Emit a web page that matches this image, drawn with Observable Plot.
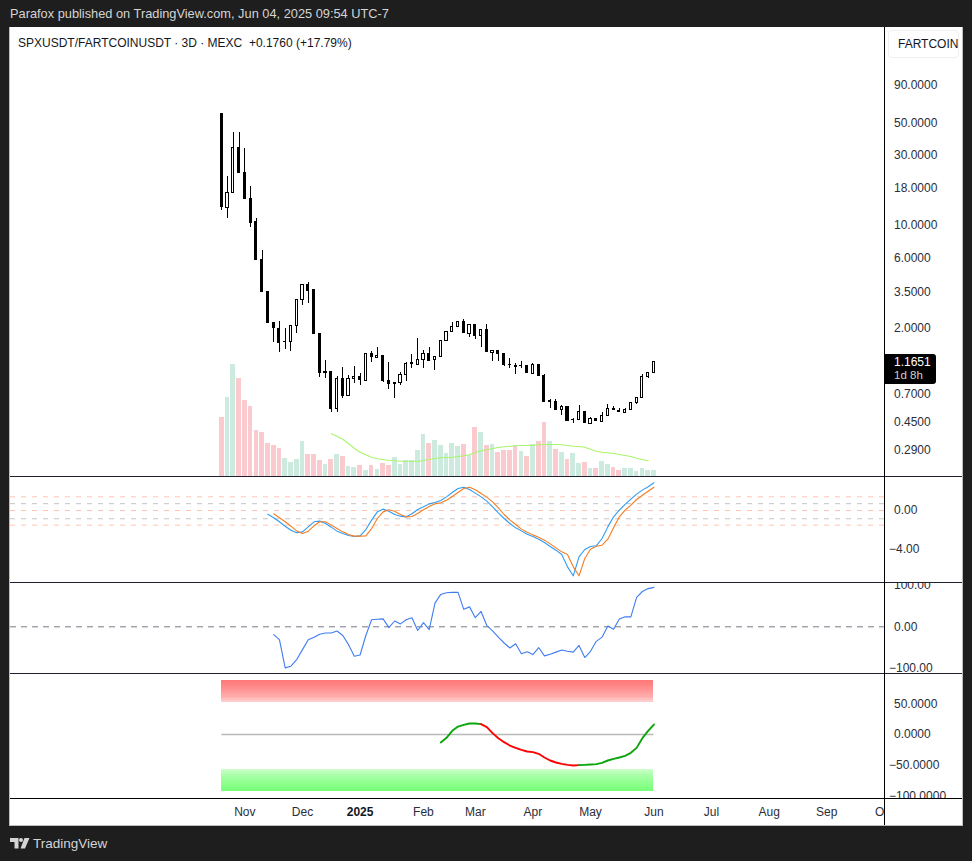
<!DOCTYPE html>
<html>
<head>
<meta charset="utf-8">
<script src="https://cdn.jsdelivr.net/npm/d3@7"></script>
<script src="https://cdn.jsdelivr.net/npm/@observablehq/plot@0.6"></script>
<style>
  html, body { margin: 0; padding: 0; background: #1e1e1e; }
  body { width: 972px; height: 861px; position: relative; overflow: hidden;
    font-family: "Liberation Sans", Arial, sans-serif; }
  .abs { position: absolute; white-space: pre; }
  .panel { position: absolute; left: 10px; width: 952px; overflow: hidden; }
  .panel svg { position: absolute; left: 0; top: 0; }
  .hline { position: absolute; left: 10px; width: 952px; height: 1px; background: #1c2030; }
</style>
</head>
<body>
<div class="abs" style="left:10px;top:6px;font-size:12.8px;color:#d4d4d4;">Parafox published on TradingView.com, Jun 04, 2025 09:54 UTC-7</div>
<div class="abs" style="left:9px;top:27px;width:952px;height:798px;background:#fff;border:1px solid #bdbdbd;border-top:0;"></div>
<div id="charts"></div>
<div class="hline" style="top:476px;"></div>
<div class="hline" style="top:582px;"></div>
<div class="hline" style="top:673px;"></div>
<div class="hline" style="top:798px;background:#000;"></div>
<div class="abs" style="left:884px;top:27px;width:1px;height:798px;background:#000;"></div>
<div class="abs" style="left:18px;top:36px;font-size:12px;color:#131722;">SPXUSDT/FARTCOINUSDT · 3D · MEXC  +0.1760 (+17.79%)</div>
<div class="abs" style="left:888px;top:30px;width:69px;height:26px;border:1px solid #f0f0f0;border-radius:4px;background:#fff;font-size:12px;line-height:26px;color:#131722;text-indent:9px;">FARTCOIN</div>
<div class="abs" id="lastBox" style="left:885px;top:354px;width:51px;height:30px;background:#000;border-radius:0 3px 3px 0;font-size:12px;line-height:13px;color:#fff;padding:0;"></div>
<svg class="abs" style="left:10px;top:838px;" width="20" height="11" viewBox="0 0 20 11">
  <path d="M0 0H8.5V10.5H4.5V4H0Z M14.5 0H19.5L15 10.5H10.5Z" fill="#d4d4d4"/>
  <circle cx="11" cy="2" r="2" fill="#d4d4d4"/>
</svg>
<div class="abs" style="left:33px;top:836px;font-size:13.5px;color:#d4d4d4;">TradingView</div>

<script>
"use strict";
const opens = [57.8,13.17,16.7,33.8,22.85,15.17,10.58,5.82,3.52,2.16,1.966,1.593,1.6,2.06,3.1,3.93,3.63,1.82,0.978,1.0,
  0.555,0.897,0.68,0.897,0.924,0.867,1.328,1.245,1.29,0.867,0.828,0.836,0.954,1.127,1.116,1.207,1.328,1.207,1.265,1.63,
  1.875,2.03,2.195,1.82,2.094,1.755,1.936,1.35,1.391,1.328,1.13,1.098,1.087,1.098,0.969,1.116,0.938,0.624,0.63,0.547,
  0.577,0.465,0.472,0.533,0.442,0.477,0.456,0.5,0.559,0.541,0.525,0.55,0.615,0.663,0.924,0.985];
const highs = [57.8,21.56,42.9,42.9,33.3,18.34,11.08,6.7,3.52,2.16,2.195,1.966,2.06,3.1,3.93,4.07,3.63,1.82,1.188,1.0,
  0.924,1.064,0.938,1.08,0.969,1.328,1.37,1.457,1.29,1.153,0.842,0.985,1.153,1.306,1.68,1.391,1.457,1.265,1.63,1.875,
  2.16,2.22,2.265,2.094,2.094,1.936,2.094,1.391,1.391,1.328,1.226,1.135,1.17,1.098,1.135,1.116,0.96,0.645,0.645,0.59,
  0.577,0.48,0.59,0.533,0.486,0.477,0.525,0.597,0.577,0.563,0.563,0.615,0.663,0.954,0.985,1.1651];
const lows = [12.69,11.19,16.7,22.7,15.09,9.71,5.78,3.5,2.148,1.593,1.361,1.426,1.374,1.835,2.85,2.94,1.807,0.918,0.904,0.53,
  0.53,0.66,0.68,0.836,0.81,0.867,1.163,1.245,0.85,0.76,0.66,0.8,0.863,1.058,1.116,1.058,1.182,1.025,1.265,1.6,
  1.875,1.996,1.82,1.705,1.653,1.457,1.35,1.17,1.17,1.09,1.058,0.954,1.058,0.969,0.969,0.932,0.615,0.559,0.547,0.5,
  0.46,0.446,0.472,0.442,0.442,0.456,0.456,0.5,0.541,0.525,0.525,0.55,0.6,0.663,0.897,0.985];
const closes = [13.17,16.7,33.8,22.7,15.09,10.35,5.78,3.5,2.148,1.985,1.567,1.609,2.06,3.1,3.93,3.55,1.807,0.978,1.0,0.555,
  0.897,0.68,0.897,0.924,0.867,1.328,1.245,1.29,0.858,0.824,0.842,0.954,1.135,1.14,1.207,1.328,1.182,1.265,1.63,1.875,
  2.03,2.195,1.82,2.094,1.755,1.936,1.35,1.391,1.319,1.106,1.106,1.074,1.098,0.969,1.116,0.932,0.615,0.63,0.547,0.577,
  0.46,0.472,0.533,0.442,0.477,0.456,0.5,0.559,0.541,0.525,0.55,0.615,0.663,0.924,0.985,1.1651];
const volumes = [59,79,112,98,76,70,46,44,33,31,28,18,14,17,35,22,22,16,12,17,22,20,10,9,11,6,11,7,13,11,19,12,16,16,26,42,33,36,31,23,
  33,30,32,21,49,44,31,32,24,26,26,31,25,20,32,35,54,35,27,24,17,23,13,14,8,8,15,12,9,6,8,8,5,8,6,6];
const volumeAvgStart = 19;
const volumeAvg = [42.7,40.3,37.3,32.7,28.3,24.3,21.7,19.3,17.7,17,16,15.7,15.3,15.3,15.3,15,16,17,18,18.7,19,19.3,20,20.7,21.7,24,25.7,26.7,28,29,
  29.7,30.3,30.7,31,31,31.3,31.7,32,32,32,31.7,31,30.3,30,29.3,27.3,25.3,24.3,23.7,23,22,21,20,18.3,17,15.7];

const macdStart = 8;
const macdLine = [-0.38,-0.75,-1.16,-1.61,-2.02,-2.29,-2.19,-1.68,-1.16,-1.09,-1.33,-1.71,-2.12,-2.36,-2.56,-2.67,-2.6,-1.95,-0.99,-0.14,
  0.14,-0.07,-0.41,-0.58,-0.65,-0.34,0.1,0.38,0.68,0.82,1.03,1.4,1.85,2.26,2.39,2.15,1.78,1.4,0.96,0.38,
  -0.24,-0.82,-1.33,-1.78,-2.09,-2.43,-2.67,-2.94,-3.28,-3.69,-4.07,-4.51,-5.78,-6.7,-4.75,-4.0,-3.69,-3.62,-2.87,-1.68,
  -0.65,0.03,0.62,1.16,1.68,2.09,2.43,2.84];
const signalStart = 9;
const signalLine = [-0.34,-0.75,-1.16,-1.61,-2.09,-2.36,-2.12,-1.57,-1.16,-1.16,-1.5,-1.85,-2.19,-2.46,-2.63,-2.63,-2.6,-1.85,-0.82,-0.14,
  0.07,-0.07,-0.41,-0.65,-0.62,-0.31,0.07,0.41,0.68,0.79,1.06,1.44,1.85,2.26,2.39,2.12,1.74,1.37,0.89,0.27,
  -0.41,-0.96,-1.44,-1.91,-2.22,-2.5,-2.74,-3.04,-3.42,-3.83,-4.24,-4.51,-5.78,-6.7,-4.92,-3.97,-3.66,-3.56,-2.94,-1.78,
  -0.65,0.03,0.55,1.13,1.57,1.98,2.39];
const macdOrangeLevels = [1.4, 0, -1.5];
const macdGreyLevels = [0.7, -0.85];

const cciStart = 9;
const cciLine = [-19,-31,-99,-95,-79,-55,-31,-25,-18,-15,-15,-10,-21,-43,-71,-68,-21,17,18,19,-2,14,7,17,22,-9,10,-7,57,78,82,83,83,42,48,22,37,3,-10,-25,
  -39,-51,-41,-65,-60,-67,-50,-70,-66,-61,-56,-59,-61,-45,-74,-59,-35,-25,2,-6,19,24,24,71,85,92,95];

const oscStart = 38;
const oscLine = [-13,-5.4,6,13,15.8,18,18,16.9,12,2.2,-6,-12.5,-18,-21.8,-25,-27.7,-28.8,-31.5,-37.5,-42.4,-45.7,-47.9,-49.5,-50.6,
  -50,-49.5,-48.9,-48.4,-46.2,-42.4,-39.7,-37.5,-34.8,-29.9,-21.8,-6,6,16.3];
const redBandEdges = [88,85,82,79,76,73,70,67,64,61,58,55,52.7];
const redBandFade = [0.52,0.5,0.48,0.46,0.44,0.42,0.39,0.36,0.33,0.3,0.25,0.2];
const greenBandEdges = [-57,-60,-63,-66,-69,-72,-75,-78,-81,-84,-87,-90,-93];
const greenBandFade = [0.22,0.27,0.3,0.33,0.36,0.39,0.42,0.44,0.46,0.48,0.5,0.52];
const bandFirst = 0, bandLast = 75;

const priceTicks = [90,50,30,18,10,6,3.5,2,0.7,0.45,0.29];
const macdTicks = [0,-4];
const cciTicks = [100,0,-100];
const oscTicks = [50,0,-50,-100];
const timeLabels = ["Nov","Dec","2025","Feb","Mar","Apr","May","Jun","Jul","Aug","Sep","Oct"];
const timeIndex = [4,14,24,35,44,54,64,75,85,95,105,115];

const chartWidth = 875, axisWidth = 77;
const xDomain = [-36.68, 115.2];
const up = "#cdeade", down = "#fbcace";

const series = function (start, values) {
  return values.map(function (v, i) { return { i: start + i, v: v }; });
};
const candles = opens.map(function (o, i) {
  return { i: i, open: o, high: highs[i], low: lows[i], close: closes[i], vol: volumes[i], isUp: closes[i] >= o };
});

const minus = function (s) { return s.replace("-", "\u2212"); };

// Labels start at one x; negative ones hang a few px left for the minus sign.
function priceAxis(ticks, digits) {
  const label = function (d) { return minus(d.toFixed(digits)); };
  const side = { y: function (d) { return d; }, text: label, frameAnchor: "right", textAnchor: "start", fill: "#2a2e39" };
  return [
    Plot.text(ticks.filter(function (d) { return d >= 0; }), Object.assign({ dx: 8.5 }, side)),
    Plot.text(ticks.filter(function (d) { return d < 0; }), Object.assign({ dx: 3.5 }, side)),
  ];
}

function frame(height, y, marks) {
  return Plot.plot({
    width: chartWidth + axisWidth,
    height: height,
    marginLeft: 0, marginRight: axisWidth, marginTop: 0, marginBottom: 0,
    style: { background: "transparent", color: "#2a2e39", fontFamily: '"Liberation Sans", Arial, sans-serif', fontSize: "12px", overflow: "hidden" },
    x: { domain: xDomain, axis: null },
    y: Object.assign({ axis: null }, y),
    marks: marks,
  });
}

function panel(top, height, plots) {
  const div = document.createElement("div");
  div.className = "panel";
  div.style.top = top + "px";
  div.style.height = height + "px";
  plots.forEach(function (p) { div.appendChild(p); });
  document.getElementById("charts").appendChild(div);
}

// main price pane: volume sits on its own linear scale under the candles
const volumePlot = frame(449, { domain: [0, 449] }, [
  Plot.rect(candles, {
    x1: function (d) { return d.i - 0.41; },
    x2: function (d) { return d.i + 0.41; },
    y1: 0,
    y2: "vol",
    fill: function (d) { return d.isUp ? up : down; },
    shapeRendering: "crispEdges",
  }),
  Plot.line(series(volumeAvgStart, volumeAvg), { x: "i", y: "v", stroke: "#a9f56c", strokeWidth: 1.1 }),
]);

const hollow = candles.filter(function (d) { return d.isUp; });
const solid = candles.filter(function (d) { return !d.isUp; });
const pricePlot = frame(449, { type: "log", domain: [0.1927, 224.5] }, [
  Plot.ruleX(candles, { x: "i", y1: "low", y2: "high", stroke: "#000", strokeWidth: 1, shapeRendering: "crispEdges" }),
  Plot.rect(solid, {
    x1: function (d) { return d.i - 0.27; },
    x2: function (d) { return d.i + 0.27; },
    y1: "open", y2: "close", fill: "#000", shapeRendering: "crispEdges",
  }),
  Plot.rect(hollow, {
    x1: function (d) { return d.i - 0.19; },
    x2: function (d) { return d.i + 0.19; },
    y1: "open", y2: "close", fill: "#fff", stroke: "#000", strokeWidth: 1, shapeRendering: "crispEdges",
  }),
].concat(priceAxis(priceTicks, 4)));
panel(27, 449, [volumePlot, pricePlot]);

// macd
panel(477, 105, [frame(105, { domain: [-7.385, 3.385] }, [
  Plot.ruleY(macdOrangeLevels, { stroke: "#ffc4b0", strokeWidth: 1, strokeDasharray: "5,6" }),
  Plot.ruleY(macdGreyLevels, { stroke: "#c6c6c6", strokeWidth: 1, strokeDasharray: "5,6" }),
  Plot.line(series(macdStart, macdLine), { x: "i", y: "v", stroke: "#2f9cf4", strokeWidth: 1.1 }),
  Plot.line(series(signalStart, signalLine), { x: "i", y: "v", stroke: "#f57c22", strokeWidth: 1.1 }),
].concat(priceAxis(macdTicks, 2)))]);

// cci
panel(583, 90, [frame(90, { domain: [-112.5, 104.3] }, [
  Plot.ruleY([0], { stroke: "#787b86", strokeWidth: 1, strokeDasharray: "6,5" }),
  Plot.line(series(cciStart, cciLine), { x: "i", y: "v", stroke: "#3f7df2", strokeWidth: 1.1 }),
].concat(priceAxis(cciTicks, 2)))]);

// oscillator with gradient bands
const strips = function (edges, fade) {
  return fade.map(function (f, i) { return { top: edges[i], bottom: edges[i + 1], fade: f }; });
};
const bandMark = function (data, color) {
  return Plot.rect(data, {
    x1: function () { return bandFirst; },
    x2: function () { return bandLast; },
    y1: "bottom", y2: "top", fill: color, fillOpacity: "fade", shapeRendering: "crispEdges",
  });
};
const oscPoints = series(oscStart, oscLine).map(function (d, k, all) {
  const prev = k > 0 ? all[k - 1].v : d.v - 1;
  return { i: d.i, v: d.v, color: d.v >= prev ? "#0aa50a" : "#ff0000" };
});
panel(674, 124, [frame(124, { domain: [-104.4, 97.9] }, [
  bandMark(strips(redBandEdges, redBandFade), "#ff0000"),
  bandMark(strips(greenBandEdges, greenBandFade), "#00ff00"),
  Plot.ruleY([0], { x1: function () { return bandFirst; }, x2: function () { return bandLast; }, stroke: "#b9b9b9", strokeWidth: 1.5 }),
  Plot.line(oscPoints, { x: "i", y: "v", z: null, stroke: "color", strokeWidth: 1.9 }),
].concat(priceAxis(oscTicks, 4)))]);

// time axis, clipped at the price scale like the original
const timeData = timeLabels.map(function (t, k) { return { t: t, i: timeIndex[k] }; });
const timePlot = Plot.plot({
  width: chartWidth,
  height: 26,
  margin: 0,
  style: { background: "transparent", color: "#2a2e39", fontFamily: '"Liberation Sans", Arial, sans-serif', fontSize: "12px", overflow: "hidden" },
  x: { domain: xDomain, axis: null },
  marks: [
    Plot.text(timeData.filter(function (d) { return d.t !== "2025"; }), { x: "i", text: "t", frameAnchor: "middle", fill: "#2a2e39" }),
    Plot.text(timeData.filter(function (d) { return d.t === "2025"; }), { x: "i", text: "t", frameAnchor: "middle", fill: "#131722", fontWeight: 700 }),
  ],
});
panel(799, 26, [timePlot]);

const box = document.getElementById("lastBox");
box.innerHTML = '<div style="margin:2px 0 0 9px;">' + closes[closes.length - 1].toFixed(4) +
  '</div><div style="margin:0 0 0 9px;color:#cfcfcf;font-size:11.5px;">1d 8h</div>';
</script>
</body>
</html>
